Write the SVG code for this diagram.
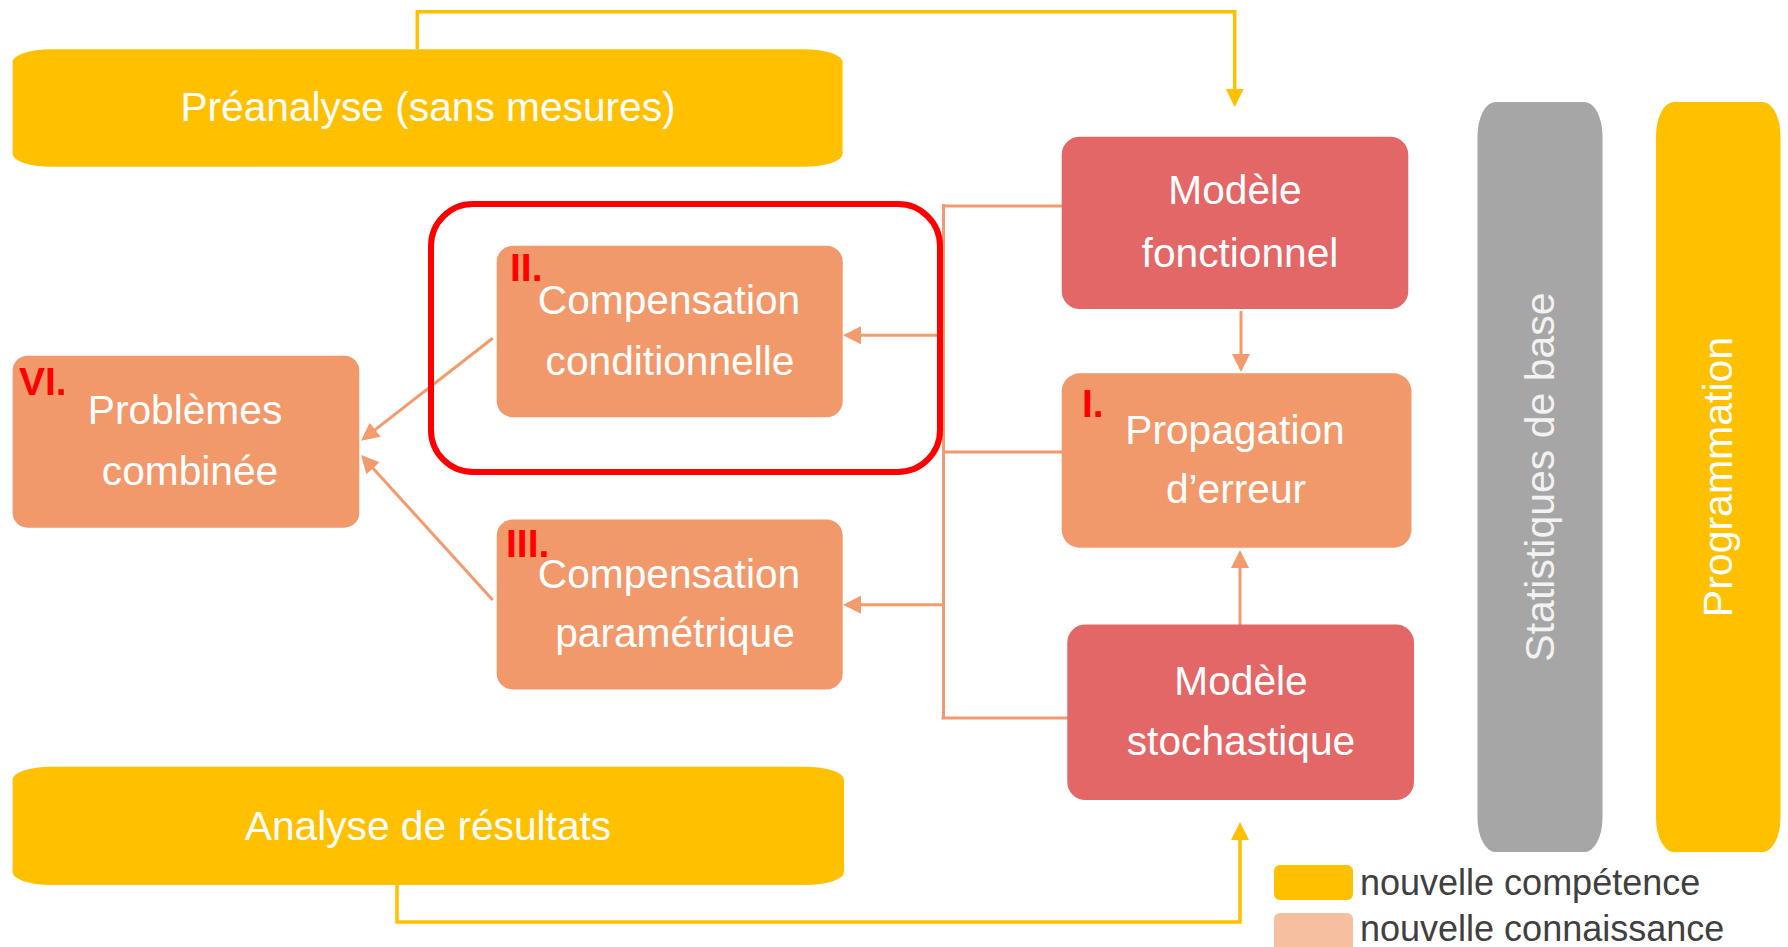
<svg xmlns="http://www.w3.org/2000/svg" width="1788" height="947" viewBox="0 0 1788 947">
<defs>
<style>
.lbl{font-family:"Liberation Sans",Arial,sans-serif;font-size:40.7px;fill:#ffffff;text-anchor:middle}
.num{font-family:"Liberation Sans",Arial,sans-serif;font-size:39px;font-weight:bold;fill:#ff0000}
.leg{font-family:"Liberation Sans",Arial,sans-serif;font-size:36px;fill:#404040}
.salmon{fill:#F2996B}
.redbox{fill:#E46767}
.yel{fill:#FFC000}
.con{fill:none;stroke:#F39B6D;stroke-width:3}
.ycon{fill:none;stroke:#FFC000;stroke-width:3.5}
</style>
<marker id="aS" viewBox="0 0 18 18" refX="15" refY="9" markerWidth="18" markerHeight="18" markerUnits="userSpaceOnUse" orient="auto">
<path d="M0,0 L18,9 L0,18 z" fill="#F39B6D"/>
</marker>
<marker id="aY" viewBox="0 0 18 18" refX="15" refY="9" markerWidth="18" markerHeight="18" markerUnits="userSpaceOnUse" orient="auto">
<path d="M0,0 L18,9 L0,18 z" fill="#FFC000"/>
</marker>
</defs>
<rect width="1788" height="947" fill="#ffffff"/>

<g id="preanalyse">
<rect class="yel" x="12.6" y="49.3" width="830" height="117.4" rx="38" ry="13"/>
<text class="lbl" x="428" y="121">Préanalyse (sans mesures)</text>
</g>

<g id="analyse">
<rect class="yel" x="12.6" y="766.7" width="831.4" height="118.3" rx="38" ry="13"/>
<text class="lbl" x="428" y="840">Analyse de résultats</text>
</g>

<g id="connectors">
<path class="con" d="M943.5,204 V718.5"/>
<path class="con" d="M943.5,206 H1067"/>
<path class="con" d="M943.5,452 H1062"/>
<path class="con" d="M941.5,718 H1069"/>
<path class="con" d="M945,335.3 H846" marker-end="url(#aS)"/>
<path class="con" d="M945,604.7 H846" marker-end="url(#aS)"/>
<path class="con" d="M492.7,338.3 L363.4,438.9" marker-end="url(#aS)"/>
<path class="con" d="M492.7,600 L363,457.2" marker-end="url(#aS)"/>
<path class="con" d="M1241,311 V369" marker-end="url(#aS)"/>
<path class="con" d="M1240,627 V553" marker-end="url(#aS)"/>
<path class="ycon" d="M417.3,49 V11.7 H1234.7 V104" marker-end="url(#aY)"/>
<path class="ycon" d="M397,885 V922 H1240 V825" marker-end="url(#aY)"/>
</g>

<g id="problemes">
<rect class="salmon" x="12.6" y="355.7" width="346.7" height="172" rx="15"/>
<text class="num" x="19" y="395">VI.</text>
<text class="lbl" x="185" y="424">Problèmes</text>
<text class="lbl" x="190" y="485">combinée</text>
</g>

<g id="comp-conditionnelle">
<rect class="salmon" x="496.7" y="245.7" width="346" height="171.6" rx="16"/>
<text class="num" x="510" y="281">II.</text>
<text class="lbl" x="669" y="314">Compensation</text>
<text class="lbl" x="670" y="375">conditionnelle</text>
</g>

<g id="comp-parametrique">
<rect class="salmon" x="496.7" y="519.5" width="346" height="170" rx="16"/>
<text class="num" x="506" y="557">III.</text>
<text class="lbl" x="669" y="588">Compensation</text>
<text class="lbl" x="675" y="647">paramétrique</text>
</g>

<g id="highlight">
<rect x="431" y="204" width="509" height="268" rx="42" fill="none" stroke="#FF0000" stroke-width="6"/>
</g>

<g id="modele-fonctionnel">
<rect class="redbox" x="1061.7" y="136.7" width="346.6" height="172.3" rx="18"/>
<text class="lbl" x="1235" y="204">Modèle</text>
<text class="lbl" x="1240" y="267">fonctionnel</text>
</g>

<g id="propagation">
<rect class="salmon" x="1061.7" y="373.3" width="349.8" height="174.4" rx="18"/>
<text class="num" x="1082" y="417">I.</text>
<text class="lbl" x="1235" y="444">Propagation</text>
<text class="lbl" x="1236" y="503">d’erreur</text>
</g>

<g id="modele-stochastique">
<rect class="redbox" x="1067.3" y="624.5" width="346.7" height="175.5" rx="18"/>
<text class="lbl" x="1241" y="695">Modèle</text>
<text class="lbl" x="1241" y="755">stochastique</text>
</g>

<g id="statistiques">
<path fill="#A6A6A6" d="M1495.5,102 H1584.5 A18,34 0 0 1 1602.5,136 V818 A18,34 0 0 1 1584.5,852 H1495.5 A18,34 0 0 1 1477.5,818 V136 A18,34 0 0 1 1495.5,102 Z"/>
<text class="lbl" style="font-size:41px;fill:#F2F2F2" transform="translate(1553.5,477) rotate(-90)">Statistiques de base</text>
</g>

<g id="programmation">
<path fill="#FFC000" d="M1674,102 H1762.5 A18,34 0 0 1 1780.5,136 V818 A18,34 0 0 1 1762.5,852 H1674 A18,34 0 0 1 1656,818 V136 A18,34 0 0 1 1674,102 Z"/>
<text class="lbl" style="font-size:41px" transform="translate(1731.5,477) rotate(-90)">Programmation</text>
</g>

<g id="legend">
<rect x="1274" y="865" width="79" height="35" rx="6" fill="#FFC000"/>
<text class="leg" x="1360" y="895">nouvelle compétence</text>
<rect x="1274" y="913" width="79" height="40" rx="6" fill="#F5BFA0"/>
<text class="leg" x="1360" y="941">nouvelle connaissance</text>
</g>
</svg>
